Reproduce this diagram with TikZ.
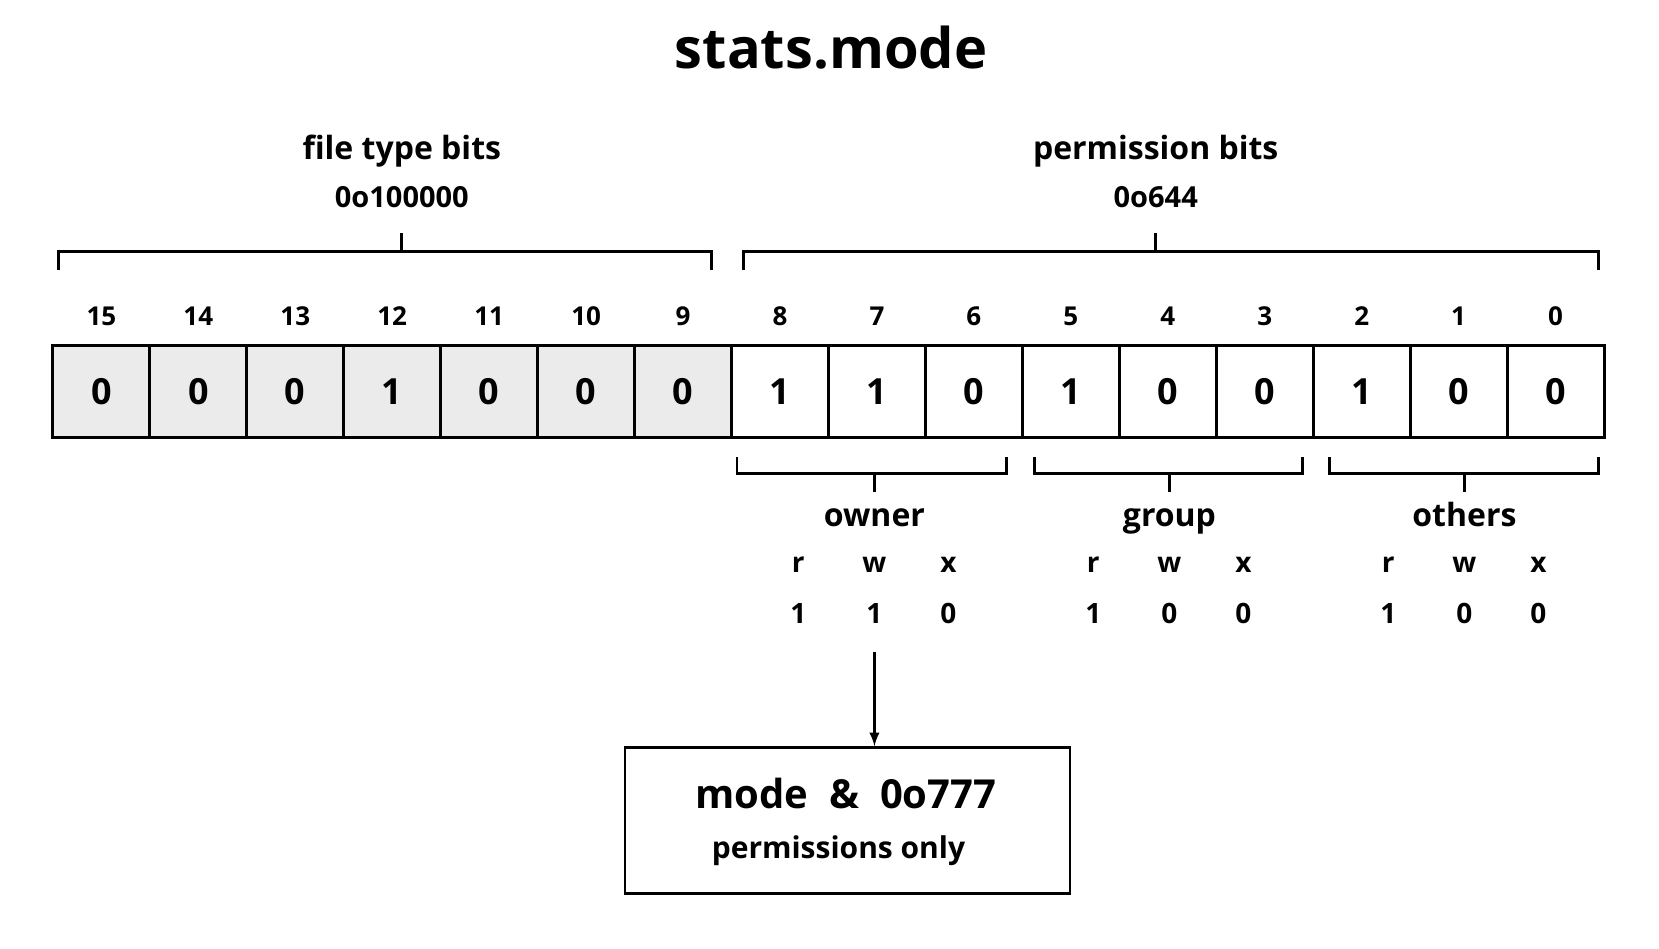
\documentclass[tikz,border=0pt]{standalone}
\usepackage{fontspec}
\setmainfont{Open Sans}
\usetikzlibrary{positioning}
\tikzset{cell/.style={rectangle, draw=black, line width=1.4pt, minimum width=48.5pt, minimum height=46pt, inner sep=0pt, font=\fontsize{18}{21}\selectfont\bfseries},
ftcell/.style={cell, fill=black!8},
idx/.style={font=\fontsize{13}{15}\selectfont\bfseries},
grp/.style={font=\fontsize{16}{19}\selectfont\bfseries},
sub/.style={font=\fontsize{14}{16}\selectfont\bfseries},
brace/.style={line width=1.4pt},
arrowout/.style={->,>=latex,line width=1.3pt}}
\begin{document}
\begin{tikzpicture}[x=0.5287pt,y=-0.5287pt]
\useasboundingbox (0,0) rectangle (1569,897);

\node(title) at (786,45) [font=\fontsize{28}{32}\selectfont\bfseries] {stats.mode};

% bit cells
\foreach \b/\v [count=\i from 0] in {15/0,14/0,13/0,12/1,11/0,10/0,9/0,8/1,7/1,6/0,5/1,4/0,3/0,2/1,1/0,0/0} {
  \ifnum\i<7
    \node(c\b) at ({50+91.69*(\i+0.5)},370) [ftcell] {\v};
  \else
    \node(c\b) at ({50+91.69*(\i+0.5)},370) [cell] {\v};
  \fi
  \node(i\b) at ({50+91.69*(\i+0.5)},299) [idx] {\b};
}

% upper braces
\draw[brace] (55,255) -- (55,238) -- (673,238) -- (673,255) (380,238) -- (380,220);
\draw[brace] (703,255) -- (703,238) -- (1512,238) -- (1512,255) (1093,238) -- (1093,220);
\node(ft) at (380,143) [grp] {file type bits};
\node(ftv) at (380,186) [idx, font=\fontsize{14.5}{17}\selectfont\bfseries] {0o100000};
\node(pb) at (1093,143) [grp] {permission bits};
\node(pbv) at (1093,186) [idx, font=\fontsize{14.5}{17}\selectfont\bfseries] {0o644};

% lower braces
\foreach \n/\l/\r/\m/\a/\bb/\c in {owner/697/952/827/1/1/0, group/978/1232/1106/1/0/0, others/1257/1512/1385/1/0/0} {
  \draw[brace] (\l,432) -- (\l,448) -- (\r,448) -- (\r,432) (\m,448) -- (\m,465);
  \node(\n) at (\m,487) [grp, anchor=base, yshift=-6pt] {\n};
  \node at ({\m-72},534) [sub] {r};
  \node at (\m,534) [sub] {w};
  \node at ({\m+70},534) [sub] {x};
  \node at ({\m-72},580) [sub] {\a};
  \node at (\m,580) [sub] {\bb};
  \node at ({\m+70},580) [sub] {\c};
}

\node(mask) at (801.5,776) [rectangle, draw=black, line width=1.4pt, minimum width=222.5pt, minimum height=73pt] {};
\node(maskt) at (800,750) [font=\fontsize{20}{23}\selectfont\bfseries] {mode \ \& \ 0o777};
\node(masks) at (793,805) [font=\fontsize{15}{17}\selectfont\bfseries] {permissions only};

\coordinate (from) at (827,617);
\draw[arrowout] (from) -- (from |- mask.north);
\end{tikzpicture}
\end{document}
